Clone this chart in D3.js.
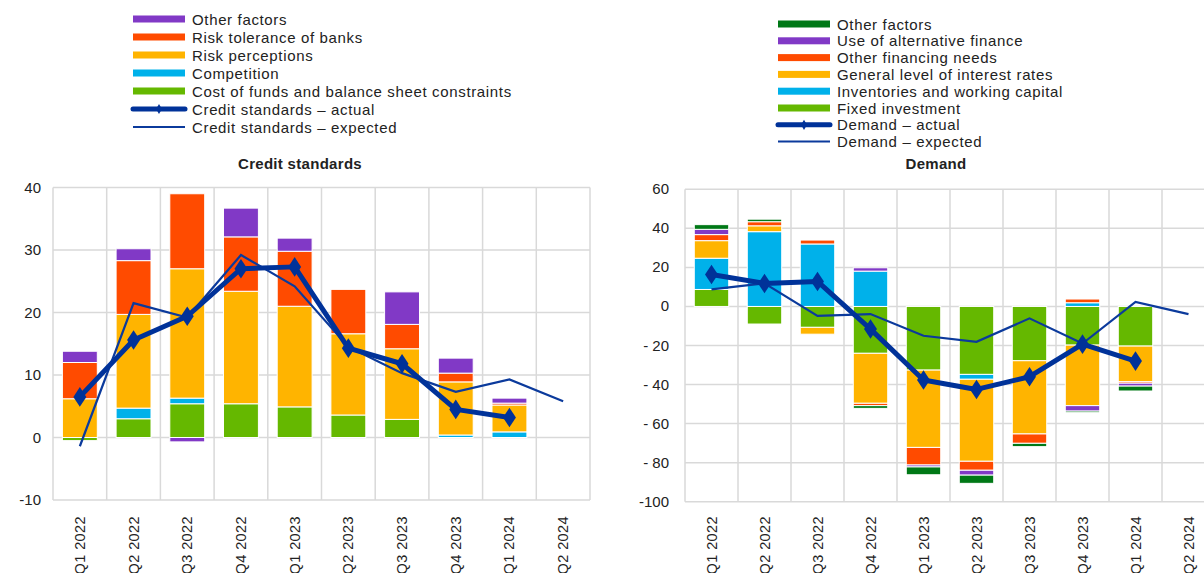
<!DOCTYPE html>
<html><head><meta charset="utf-8">
<script src="https://cdn.jsdelivr.net/npm/d3@7"></script>
<style>
body{margin:0;background:#fff;}
svg text{font-family:"Liberation Sans",Arial,sans-serif;fill:#222;}
</style></head>
<body><svg id="c" width="1204" height="573"></svg>
<script>
// ---------- DATA ----------
const quarters = ["Q1 2022","Q2 2022","Q3 2022","Q4 2022","Q1 2023","Q2 2023","Q3 2023","Q4 2023","Q1 2024","Q2 2024"];

// Credit standards (left)
const csCost        = [-0.5, 3.0, 5.4, 5.4, 4.9, 3.6, 2.9, 0, 0, null];
const csCompetition = [0, 1.7, 0.9, 0, 0, 0, 0, 0.4, 0.9, null];
const csPerceptions = [6.2, 15.0, 20.7, 18.0, 16.1, 13.0, 11.3, 8.5, 4.3, null];
const csTolerance   = [5.8, 8.6, 12.0, 8.7, 8.8, 7.1, 3.9, 1.4, 0.3, null];
const csOther       = [1.8, 1.9, -0.7, 4.6, 2.1, 0, 5.2, 2.4, 0.8, null];
const csActual      = [6.5, 15.6, 19.4, 27.0, 27.3, 14.3, 11.8, 4.5, 3.2, null];
const csExpected    = [-1.4, 21.5, 19.2, 29.2, 24.2, 14.5, 10.3, 7.3, 9.3, 5.8];
const csTicks = [-10, 0, 10, 20, 30, 40];

// Demand (right)
const dFixed       = [8.7, -9.0, -10.7, -24.0, -32.6, -34.8, -27.8, -19.8, -20.3, null];
const dInventories = [16.0, 38.3, 32.0, 18.1, 0, -2.5, 0, 1.9, 0, null];
const dInterest    = [9.0, 3.0, -3.5, -25.6, -39.6, -42.0, -37.5, -31.0, -18.2, null];
const dOtherFin    = [3.1, 2.1, 2.0, -1.2, -9.0, -4.6, -4.8, 1.9, -0.8, null];
const dAltFin      = [2.7, 0, 0, 1.7, -1.0, -2.5, 0, -2.8, -1.5, null];
const dOther       = [2.4, 1.3, 0, -1.4, -4.0, -4.2, -1.7, -0.8, -2.5, null];
const dActual      = [16.4, 11.8, 12.8, -11.6, -37.7, -42.5, -36.0, -19.3, -28.0, null];
const dExpected    = [8.7, 11.8, -4.8, -3.9, -15.0, -18.1, -6.1, -19.0, 2.3, -3.9];
const dTicks = [-100, -80, -60, -40, -20, 0, 20, 40, 60];

// ---------- COLOURS ----------
const C = {purple:"#8139c6", red:"#ff4b00", yellow:"#ffb400", cyan:"#00b1ea", green:"#65b800", dgreen:"#007816", blue:"#003299", grid:"#d9d9d9"};

const svg = d3.select("#c");

function drawChart(o){
  const g = svg.append("g");
  const x = d3.scaleBand().domain(quarters).range([o.x0, o.x1]).paddingInner(0).paddingOuter(0);
  const y = d3.scaleLinear().domain(o.domain).range([o.y0, o.y1]);
  // gridlines
  g.append("g").selectAll("line.h").data(o.ticks).join("line")
    .attr("x1", o.x0).attr("x2", o.x1).attr("y1", d=>y(d)).attr("y2", d=>y(d))
    .attr("stroke", C.grid).attr("stroke-width", 1.5);
  const bounds = quarters.map(q=>x(q)).concat([o.x1]);
  g.append("g").selectAll("line.v").data(bounds).join("line")
    .attr("x1", d=>d).attr("x2", d=>d).attr("y1", o.y1).attr("y2", o.y0)
    .attr("stroke", C.grid).attr("stroke-width", 1.5);
  // y axis labels
  g.append("g").selectAll("text").data(o.ticks).join("text")
    .attr("x", o.labelX).attr("y", d=>y(d)+5).attr("text-anchor","end")
    .style("font-size","15px").text(o.fmt);
  // stacked bars
  const rows = quarters.map((q,i)=>{const r={q}; o.series.forEach(s=>r[s.key]=s.values[i]||0); return r;});
  const stack = d3.stack().keys(o.series.map(s=>s.key)).offset(d3.stackOffsetDiverging)(rows);
  const bw = x.bandwidth()*o.barFrac;
  stack.forEach((layer,li)=>{
    g.append("g").selectAll("rect").data(layer.filter(d=>d[1]!==d[0])).join("rect")
      .attr("x", d=>x(d.data.q)+(x.bandwidth()-bw)/2)
      .attr("width", bw)
      .attr("y", d=>y(Math.max(d[0],d[1])))
      .attr("height", d=>Math.abs(y(d[0])-y(d[1])))
      .attr("fill", o.series[li].color)
      .attr("stroke","#fff").attr("stroke-width",1);
  });
  const cx = q=>x(q)+x.bandwidth()/2;
  // expected line
  const expPts = quarters.map((q,i)=>[q,o.expected[i]]).filter(d=>d[1]!=null);
  g.append("path").datum(expPts)
    .attr("d", d3.line().x(d=>cx(d[0])).y(d=>y(d[1])))
    .attr("fill","none").attr("stroke", "#0b3a9c").attr("stroke-width",2.2);
  // actual line
  const actPts = quarters.map((q,i)=>[q,o.actual[i]]).filter(d=>d[1]!=null);
  g.append("path").datum(actPts)
    .attr("d", d3.line().x(d=>cx(d[0])).y(d=>y(d[1])))
    .attr("fill","none").attr("stroke", C.blue).attr("stroke-width",5).attr("stroke-linejoin","round");
  g.append("g").selectAll("path").data(actPts).join("path")
    .attr("d", d3.symbol(d3.symbolDiamond, 110)())
    .attr("transform", d=>`translate(${cx(d[0])},${y(d[1])}) scale(1.15,1)`)
    .attr("fill", C.blue);
  // x labels
  g.append("g").selectAll("text").data(quarters).join("text")
    .attr("transform", q=>`translate(${cx(q)+5},${o.xLabelY}) rotate(-90)`)
    .attr("text-anchor","end").style("font-size","14.5px").style("letter-spacing","0.4px").text(q=>q);
  // title
  g.append("text").attr("x", o.titleX).attr("y", 169).attr("text-anchor","middle")
    .style("font-size","15px").style("font-weight","bold").style("letter-spacing","0.3px").text(o.title);
  // legend
  const lg = g.append("g");
  o.legend.forEach((it,i)=>{
    const yy = o.legY + i*o.legStep;
    if(it.type==="bar"){
      lg.append("rect").attr("x", o.legX).attr("y", yy-3.5).attr("width", 52).attr("height", 7).attr("fill", it.color);
    } else if(it.type==="actual"){
      lg.append("line").attr("x1",o.legX).attr("x2",o.legX+52).attr("y1",yy).attr("y2",yy)
        .attr("stroke",C.blue).attr("stroke-width",5).attr("stroke-linecap","round");
      lg.append("path").attr("d", d3.symbol(d3.symbolDiamond, 30)()).attr("transform",`translate(${o.legX+26},${yy})`).attr("fill",C.blue);
    } else {
      lg.append("line").attr("x1",o.legX).attr("x2",o.legX+52).attr("y1",yy).attr("y2",yy)
        .attr("stroke","#0b3a9c").attr("stroke-width",2);
    }
    lg.append("text").attr("x", o.legX+59).attr("y", yy+5.5).style("font-size","15px").style("letter-spacing","0.65px").text(it.label);
  });
}

drawChart({
  x0:53, x1:590, y0:500, y1:187.5, domain:[-10,40], ticks:csTicks, labelX:41,
  fmt:d=>String(d), barFrac:0.65, xLabelY:516, title:"Credit standards", titleX:300,
  series:[
    {key:"cost", values:csCost, color:C.green},
    {key:"comp", values:csCompetition, color:C.cyan},
    {key:"perc", values:csPerceptions, color:C.yellow},
    {key:"tol", values:csTolerance, color:C.red},
    {key:"oth", values:csOther, color:C.purple}
  ],
  actual:csActual, expected:csExpected,
  legX:133, legY:19, legStep:18,
  legend:[
    {type:"bar", color:C.purple, label:"Other factors"},
    {type:"bar", color:C.red, label:"Risk tolerance of banks"},
    {type:"bar", color:C.yellow, label:"Risk perceptions"},
    {type:"bar", color:C.cyan, label:"Competition"},
    {type:"bar", color:C.green, label:"Cost of funds and balance sheet constraints"},
    {type:"actual", label:"Credit standards \u2013 actual"},
    {type:"expected", label:"Credit standards \u2013 expected"}
  ]
});

drawChart({
  x0:685, x1:1215, y0:501.7, y1:189.3, domain:[-100,60], ticks:dTicks, labelX:669,
  fmt:d=> d<0 && d>-100 ? "- "+Math.abs(d) : String(d), barFrac:0.65, xLabelY:516, title:"Demand", titleX:936,
  series:[
    {key:"fix", values:dFixed, color:C.green},
    {key:"inv", values:dInventories, color:C.cyan},
    {key:"int", values:dInterest, color:C.yellow},
    {key:"ofn", values:dOtherFin, color:C.red},
    {key:"alt", values:dAltFin, color:C.purple},
    {key:"oth", values:dOther, color:C.dgreen}
  ],
  actual:dActual, expected:dExpected,
  legX:778, legY:24, legStep:16.8,
  legend:[
    {type:"bar", color:C.dgreen, label:"Other factors"},
    {type:"bar", color:C.purple, label:"Use of alternative finance"},
    {type:"bar", color:C.red, label:"Other financing needs"},
    {type:"bar", color:C.yellow, label:"General level of interest rates"},
    {type:"bar", color:C.cyan, label:"Inventories and working capital"},
    {type:"bar", color:C.green, label:"Fixed investment"},
    {type:"actual", label:"Demand \u2013 actual"},
    {type:"expected", label:"Demand \u2013 expected"}
  ]
});
</script></body></html>
